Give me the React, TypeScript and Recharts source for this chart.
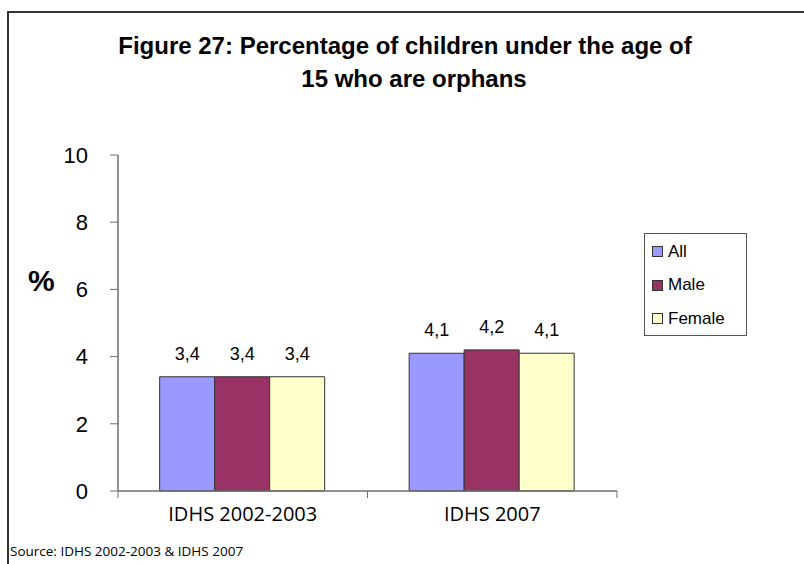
import React from "react";
import { BarChart, Bar, XAxis, YAxis, LabelList } from "recharts";

const surveys = ["IDHS 2002-2003", "IDHS 2007"];
const allChildren = [3.4, 4.1];
const maleChildren = [3.4, 4.2];
const femaleChildren = [3.4, 4.1];
const yTicks = [0, 2, 4, 6, 8, 10];

const seriesList = [
  { key: "all", name: "All", color: "#9999FF" },
  { key: "male", name: "Male", color: "#993366" },
  { key: "female", name: "Female", color: "#FFFFCC" },
];

const chartData = surveys.map((survey, i) => ({
  survey,
  all: allChildren[i],
  male: maleChildren[i],
  female: femaleChildren[i],
}));

const commaDecimal = (v: any) => String(v).replace(".", ",");

const arial = "Arial, 'Liberation Sans', sans-serif";
const axisGray = "#6e6e6e";
const labelGap = 16; // tickSize + tickMargin of the category axis

// category label plus the small tick marks on the band edges
function SurveyTick(props: any) {
  const { x, y, payload, index } = props;
  const half = payload && payload.offset ? payload.offset : 0;
  const axisY = y - labelGap;
  return (
    <g>
      {index === 0 && (
        <line x1={x - half} y1={axisY} x2={x - half} y2={axisY + 7} stroke={axisGray} />
      )}
      <line x1={x + half} y1={axisY} x2={x + half} y2={axisY + 7} stroke={axisGray} />
      <text
        x={x}
        y={y}
        dy="0.71em"
        textAnchor="middle"
        fill="#000"
        fontSize={20}
        fontFamily="'Open Sans', sans-serif"
      >
        {payload.value}
      </text>
    </g>
  );
}

function LegendBox() {
  return (
    <div
      style={{
        position: "absolute",
        left: 644,
        top: 233,
        width: 103,
        height: 103,
        border: "1px solid #555",
        background: "#fff",
        boxSizing: "border-box",
        padding: "1px 0 0 7px",
        fontFamily: arial,
        fontSize: 17,
        color: "#000",
      }}
    >
      {seriesList.map((s) => (
        <div
          key={s.key}
          style={{ display: "flex", alignItems: "center", height: 33.5 }}
        >
          <span
            style={{
              display: "inline-block",
              width: 9,
              height: 9,
              background: s.color,
              border: "1px solid #333",
              marginRight: 5,
            }}
          />
          {s.name}
        </div>
      ))}
    </div>
  );
}

export default function App() {
  return (
    <div
      style={{
        position: "absolute",
        left: 0,
        top: 0,
        width: 804,
        height: 564,
        background: "#fff",
        fontFamily: arial,
        overflow: "hidden",
      }}
    >
      {/* frame */}
      <div
        style={{
          position: "absolute",
          left: 7,
          top: 11,
          width: 800,
          height: 560,
          borderLeft: "2px solid #333",
          borderTop: "2px solid #333",
        }}
      />
      {/* title */}
      <div
        style={{
          position: "absolute",
          left: 0,
          top: 29,
          width: 810,
          textAlign: "center",
          fontWeight: "bold",
          fontSize: 24,
          lineHeight: "33px",
          color: "#000",
        }}
      >
        Figure 27: Percentage of children under the age of
      </div>
      <div
        style={{
          position: "absolute",
          left: 0,
          top: 62,
          width: 828,
          textAlign: "center",
          fontWeight: "bold",
          fontSize: 24,
          lineHeight: "33px",
          color: "#000",
        }}
      >
        15 who are orphans
      </div>
      <div
        style={{
          position: "absolute",
          left: 28,
          top: 266,
          fontWeight: "bold",
          fontSize: 30,
          lineHeight: "30px",
          color: "#000",
        }}
      >
        %
      </div>
      <div
        style={{
          position: "absolute",
          left: 10,
          top: 541,
          fontFamily: "'Open Sans', sans-serif",
          fontSize: 13.5,
          lineHeight: "20px",
          color: "#000",
        }}
      >
        Source: IDHS 2002-2003 &amp; IDHS 2007
      </div>
      <BarChart
        width={804}
        height={564}
        data={chartData}
        margin={{ top: 155, right: 187, bottom: 33, left: 60 }}
        barCategoryGap="16.7%"
        barGap={0}
        style={{ position: "absolute", left: 0, top: 0 }}
      >
        <XAxis
          dataKey="survey"
          tickLine={false}
          tickSize={6}
          tickMargin={labelGap - 6}
          axisLine={{ stroke: axisGray, strokeWidth: 1.5 }}
          tick={<SurveyTick />}
          height={40}
        />
        <YAxis
          domain={[0, 10]}
          ticks={yTicks}
          width={58}
          tickSize={8}
          tickMargin={22}
          axisLine={{ stroke: axisGray, strokeWidth: 1.5 }}
          tickLine={{ stroke: axisGray }}
          tick={{ fill: "#000", fontSize: 22, fontFamily: arial }}
        />
        {seriesList.map((s) => (
          <Bar
            key={s.key}
            dataKey={s.key}
            name={s.name}
            fill={s.color}
            stroke="#333"
            strokeWidth={1}
            isAnimationActive={false}
          >
            <LabelList
              dataKey={s.key}
              position="top"
              offset={17}
              formatter={commaDecimal}
              style={{ fill: "#000", fontSize: 18, fontFamily: arial }}
            />
          </Bar>
        ))}
      </BarChart>
      <LegendBox />
    </div>
  );
}
